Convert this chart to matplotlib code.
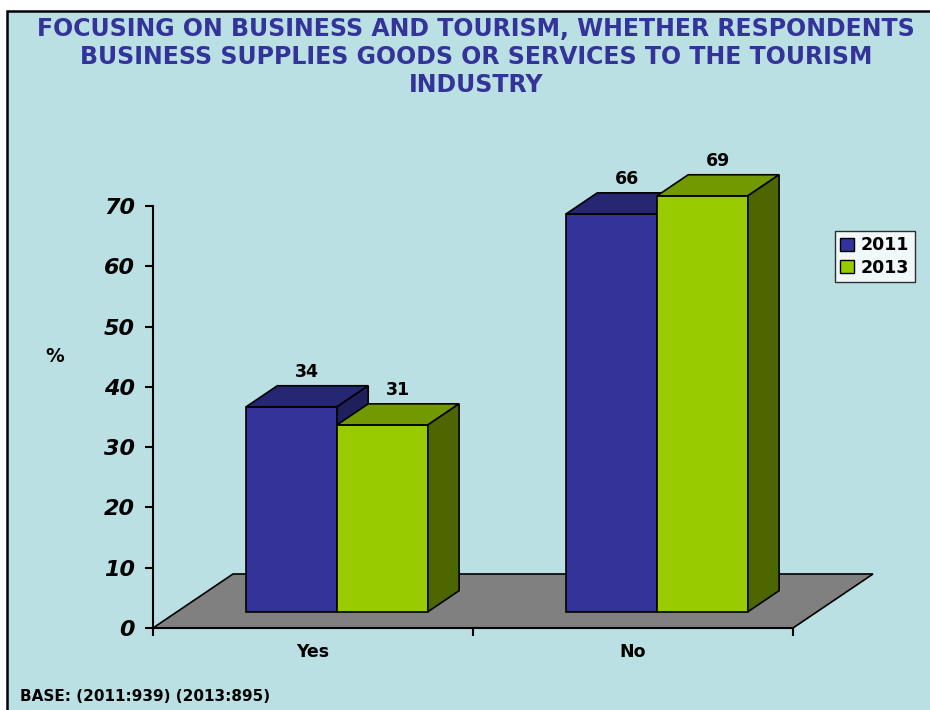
import matplotlib.pyplot as plt
from matplotlib.patches import Polygon, Rectangle, Patch

# données
categories = ["Yes", "No"]
annees = ["2011", "2013"]
valeurs_2011 = [34, 66]
valeurs_2013 = [31, 69]

titre = ("FOCUSING ON BUSINESS AND TOURISM, WHETHER RESPONDENTS\n"
         "BUSINESS SUPPLIES GOODS OR SERVICES TO THE TOURISM\n"
         "INDUSTRY")
base = "BASE: (2011:939) (2013:895)"

fond = "#BAE0E3"
couleurs = {
    "2011": ("#333399", "#262673", "#1F1F5C"),   # face, dessus, cote
    "2013": ("#99CC00", "#739900", "#4D6600"),
}

# effet 3D : profondeur du sol et position des barres dans cette profondeur
prof_x, prof_y = 0.25, 8.96
avant, arriere = 0.30, 0.69
largeur = 0.284

fig = plt.figure(figsize=(9.3, 7.1), dpi=100)
fig.patch.set_facecolor("white")
fig.add_artist(Rectangle((7 / 930, -0.05), 1.1, 1.05 - 11 / 710,
                         transform=fig.transFigure, facecolor=fond,
                         edgecolor="black", lw=1.8, zorder=0))

ax = fig.add_axes([153 / 930, 82 / 710, 640 / 930, 422 / 710])
ax.set_xlim(-0.5, 1.5)
ax.set_ylim(0, 70)
ax.patch.set_visible(False)
for s in ["top", "right"]:
    ax.spines[s].set_visible(False)
for s in ["left", "bottom"]:
    ax.spines[s].set_linewidth(1.5)
    ax.spines[s].set_zorder(5)

# sol gris
sol = Polygon([(-0.5, 0), (1.5, 0), (1.5 + prof_x, prof_y), (-0.5 + prof_x, prof_y)],
              closed=True, facecolor="#808080", edgecolor="black", lw=1.2,
              clip_on=False, zorder=1)
ax.add_patch(sol)


def barre_3d(x0, v, annee):
    face, dessus, cote = couleurs[annee]
    y0 = avant * prof_y
    dx = (arriere - avant) * prof_x
    dy = (arriere - avant) * prof_y
    haut = y0 + v
    ax.add_patch(Rectangle((x0, y0), largeur, v, facecolor=face,
                           edgecolor="black", lw=1.2, clip_on=False, zorder=2))
    ax.add_patch(Polygon([(x0, haut), (x0 + largeur, haut),
                          (x0 + largeur + dx, haut + dy), (x0 + dx, haut + dy)],
                         facecolor=dessus, edgecolor="black", lw=1.2,
                         clip_on=False, zorder=2))
    ax.add_patch(Polygon([(x0 + largeur, y0), (x0 + largeur + dx, y0 + dy),
                          (x0 + largeur + dx, haut + dy), (x0 + largeur, haut)],
                         facecolor=cote, edgecolor="black", lw=1.2,
                         clip_on=False, zorder=2))
    ax.text(x0 + largeur / 2 + dx / 2, haut + dy + 0.8, str(v), ha="center",
            va="bottom", fontsize=12.5, fontweight="bold", zorder=3)


for i in range(len(categories)):
    decal = i + avant * prof_x
    barre_3d(decal - largeur, valeurs_2011[i], "2011")
    barre_3d(decal, valeurs_2013[i], "2013")

ax.set_yticks(range(0, 71, 10))
ax.tick_params(axis="y", length=6, width=1.5, pad=7)
for lab in ax.get_yticklabels():
    lab.set_fontsize(16)
    lab.set_fontweight("bold")
    lab.set_fontstyle("italic")

ax.set_xticks([-0.5, 0.5, 1.5], labels=["", "", ""])
ax.tick_params(axis="x", which="major", length=6, width=1.5)
ax.set_xticks([0, 1], labels=categories, minor=True)
ax.tick_params(axis="x", which="minor", length=0, pad=11)
for lab in ax.get_xticklabels(minor=True):
    lab.set_fontsize(12.5)
    lab.set_fontweight("bold")

fig.text(55 / 930, 1 - 357 / 710, "%", ha="center", va="center",
         fontsize=13.5, fontweight="bold")

fig.text(476 / 930, 1 - 17 / 710, titre, ha="center", va="top",
         multialignment="center", fontsize=17, fontweight="bold",
         color="#333399", linespacing=1.2)

fig.text(20 / 930, 1 - 701 / 710, base, ha="left", va="baseline",
         fontsize=11, fontweight="bold")

poignees = [Patch(facecolor=couleurs[a][0], edgecolor="black", label=a) for a in annees]
leg = fig.legend(handles=poignees, loc="upper left",
                 bbox_to_anchor=(835 / 930, 1 - 231 / 710), borderaxespad=0,
                 frameon=True, fancybox=False, edgecolor="black",
                 prop={"size": 12.5, "weight": "bold"},
                 handlelength=0.8, handleheight=0.8, handletextpad=0.4,
                 borderpad=0.3, labelspacing=0.25)
leg.get_frame().set_linewidth(1.0)

fig.savefig("out.png", dpi=100)
